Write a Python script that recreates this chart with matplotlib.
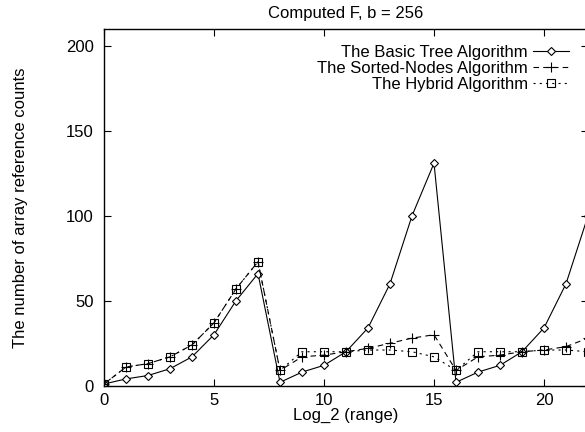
import matplotlib
matplotlib.use("Agg")
import matplotlib.pyplot as plt

plt.rcParams['font.family'] = ['Liberation Sans', 'DejaVu Sans']
plt.rcParams['lines.scale_dashes'] = False

x_values = list(range(0, 23))
basic_tree = [1, 4, 6, 10, 17, 30, 50, 66, 2, 8, 12, 20, 34, 60, 100, 131,
              2, 8, 12, 20, 34, 60, 100]
sorted_nodes = [1, 11, 13, 17, 24, 37, 57, 73, 9, 17, 18, 20, 22, 25, 28, 30,
                9, 17, 18, 20, 21, 23, 28]
hybrid = [1, 11, 13, 17, 24, 37, 57, 73, 9, 20, 20, 20, 21, 21, 20, 17,
          9, 20, 20, 20, 21, 21, 20]
series_labels = ["The Basic Tree Algorithm", "The Sorted-Nodes Algorithm",
                 "The Hybrid Algorithm"]
x_ticks = [0, 5, 10, 15, 20]
y_ticks = [0, 50, 100, 150, 200]

W, H = 585, 432
fig = plt.figure(figsize=(W / 100, H / 100), dpi=100)
left, right, top, bottom = 104, 588, 29, 385.7
ax = fig.add_axes([left / W, 1 - bottom / H, (right - left) / W, (bottom - top) / H])

lw = 0.8
ax.plot(x_values, basic_tree, color='black', lw=lw, linestyle='-',
        marker='D', markersize=4.5, markerfacecolor='white', markeredgewidth=0.8,
        label=series_labels[0])
ax.plot(x_values, sorted_nodes, color='black', lw=lw, linestyle=(0, (4, 3)),
        marker='+', markersize=6.5, markeredgewidth=0.8,
        label=series_labels[1])
ax.plot(x_values, hybrid, color='black', lw=lw, linestyle=(0, (1.5, 3)),
        marker='s', markersize=5.5, markerfacecolor='none', markeredgewidth=0.8,
        label=series_labels[2])

ax.set_xlim(0, 22)
ax.set_ylim(0, 210)
ax.set_xticks(x_ticks)
ax.set_yticks(y_ticks)
ax.tick_params(direction='in', length=5, width=0.8, labelsize=12,
               top=True, right=True, colors='black')
ax.tick_params(axis='y', pad=7.5)
ax.tick_params(axis='x', pad=5)
for s in ax.spines.values():
    s.set_linewidth(1.0)

ax.set_title("Computed F, b = 256", fontsize=12, pad=8)
ax.set_xlabel("Log_2 (range)", fontsize=12, labelpad=0)
ax.set_ylabel("The number of array reference counts", fontsize=12, labelpad=27)

leg = ax.legend(loc='upper right', bbox_to_anchor=(1 - 0.0254, 1 - 0.027),
                borderaxespad=0, frameon=False, markerfirst=False,
                handlelength=2.16, handletextpad=0.3, labelspacing=0.05,
                fontsize=12, numpoints=1)
for t in leg.get_texts():
    t.set_ha('right')

fig.savefig("out.png", dpi=100)
